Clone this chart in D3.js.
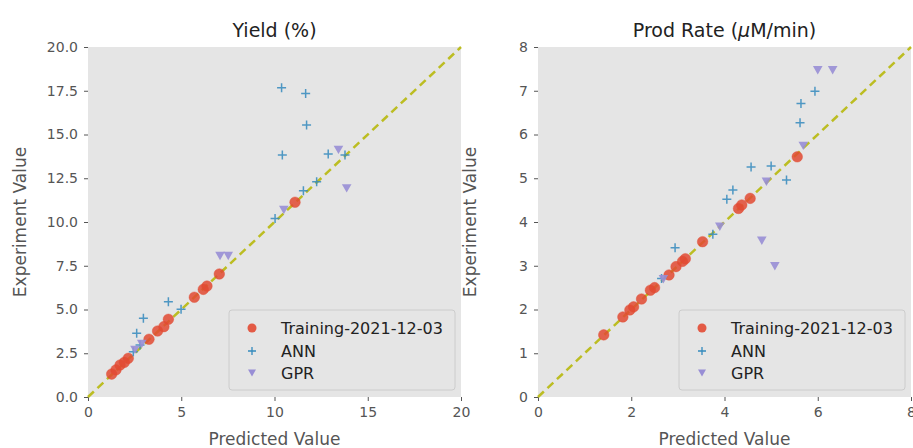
<!DOCTYPE html>
<html>
<head>
<meta charset="utf-8">
<script src="https://cdn.jsdelivr.net/npm/d3@7"></script>
<style>
  body { margin: 0; background: #fff; }
  svg { display: block; font-family: "DejaVu Sans", sans-serif; }
</style>
</head>
<body>
<svg id="chart" width="913" height="448"></svg>
<script>
// ---- Yield (%) panel data: [predicted, experiment] ----
const yieldTraining = [
  [1.27, 1.31], [1.5, 1.55], [1.72, 1.83], [1.95, 1.98], [2.16, 2.21],
  [3.27, 3.3], [3.73, 3.77], [4.07, 4.02], [4.31, 4.44],
  [5.7, 5.7], [6.18, 6.15], [6.38, 6.34], [7.04, 7.03], [11.1, 11.13]
];
const yieldANN = [
  [10.38, 17.67], [11.67, 17.35], [11.72, 15.54], [10.42, 13.83], [12.88, 13.89],
  [13.78, 13.83], [11.55, 11.79], [12.26, 12.3], [10.03, 10.2],
  [2.61, 3.64], [2.97, 4.5], [4.31, 5.45], [4.99, 5.01], [2.43, 2.59], [2.79, 2.97]
];
const yieldGPR = [
  [13.43, 14.12], [13.87, 11.92], [7.08, 8.06], [7.52, 8.06],
  [2.52, 2.69], [2.88, 3.03], [10.5, 10.69]
];

// ---- Prod Rate panel data: [predicted, experiment] ----
const rateTraining = [
  [1.41, 1.42], [1.82, 1.83], [1.97, 1.99], [2.05, 2.06], [2.22, 2.24],
  [2.41, 2.44], [2.5, 2.5], [2.81, 2.79], [2.96, 2.98], [3.1, 3.1], [3.16, 3.16],
  [3.53, 3.55], [4.3, 4.31], [4.37, 4.39], [4.55, 4.54], [5.56, 5.49]
];
const rateANN = [
  [2.94, 3.41], [4.05, 4.52], [4.18, 4.73], [4.57, 5.26], [5.0, 5.28],
  [5.33, 4.96], [5.62, 6.27], [5.64, 6.71], [5.94, 6.99],
  [2.65, 2.71], [3.75, 3.72]
];
const rateGPR = [
  [6.0, 7.47], [6.32, 7.47], [4.8, 3.57], [5.08, 2.99],
  [4.9, 4.92], [5.69, 5.74], [2.69, 2.69], [3.9, 3.89]
];

// ---- tick labels ----
const yieldXTicks = [0, 5, 10, 15, 20];
const yieldYTicks = [0, 2.5, 5, 7.5, 10, 12.5, 15, 17.5, 20];
const rateXTicks = [0, 2, 4, 6, 8];
const rateYTicks = [0, 1, 2, 3, 4, 5, 6, 7, 8];

const seriesNames = ["Training-2021-12-03", "ANN", "GPR"];
const colors = { train: "#E24A33", ann: "#348ABD", gpr: "#988ED5", diag: "#BCBD22" };

const svg = d3.select("#chart");

function panel(opts) {
  const { left, right, top, bottom, domain, xTicks, yTicks, yFmt, titleNodes } = opts;
  const x = d3.scaleLinear().domain(domain).range([left, right]);
  const y = d3.scaleLinear().domain(domain).range([bottom, top]);
  const g = svg.append("g");

  g.append("rect")
    .attr("x", left).attr("y", top)
    .attr("width", right - left).attr("height", bottom - top)
    .attr("fill", "#E5E5E5");

  const xAxis = g.append("g").attr("transform", `translate(0,${bottom})`)
    .call(d3.axisBottom(x).tickValues(xTicks).tickSize(4).tickPadding(6).tickFormat(d3.format("d")));
  const yAxis = g.append("g").attr("transform", `translate(${left},0)`)
    .call(d3.axisLeft(y).tickValues(yTicks).tickSize(4).tickPadding(6).tickFormat(yFmt));
  [xAxis, yAxis].forEach(a => {
    a.select(".domain").remove();
    a.selectAll(".tick line").attr("stroke", "#555").attr("stroke-width", 1);
    a.selectAll(".tick text").attr("fill", "#555").attr("font-size", 14)
      .attr("font-family", "DejaVu Sans, sans-serif");
  });

  // diagonal y = x
  g.append("line")
    .attr("x1", x(domain[0])).attr("y1", y(domain[0]))
    .attr("x2", x(domain[1])).attr("y2", y(domain[1]))
    .attr("stroke", colors.diag).attr("stroke-width", 2.5)
    .attr("stroke-dasharray", "8,5");

  // training circles
  g.append("g").selectAll("circle").data(opts.train).join("circle")
    .attr("cx", d => x(d[0])).attr("cy", d => y(d[1])).attr("r", 5.3)
    .attr("fill", colors.train).attr("fill-opacity", 0.85)
    .attr("stroke", colors.train).attr("stroke-opacity", 0.4).attr("stroke-width", 1);

  // ANN plus markers
  g.append("g").selectAll("path").data(opts.ann).join("path")
    .attr("transform", d => `translate(${x(d[0])},${y(d[1])})`)
    .attr("d", "M-4.5,0H4.5M0,-4.5V4.5")
    .attr("stroke", colors.ann).attr("stroke-width", 1.5).attr("stroke-opacity", 0.85)
    .attr("fill", "none");

  // GPR down triangles
  g.append("g").selectAll("path").data(opts.gpr).join("path")
    .attr("transform", d => `translate(${x(d[0])},${y(d[1])})`)
    .attr("d", "M-4.8,-4.2L4.8,-4.2L0,4.2Z")
    .attr("fill", colors.gpr).attr("fill-opacity", 0.9);

  // title
  const t = g.append("text")
    .attr("x", (left + right) / 2).attr("y", 37)
    .attr("text-anchor", "middle").attr("font-size", 19).attr("fill", "#222");
  titleNodes.forEach(n => {
    t.append("tspan").text(n.text).attr("font-style", n.italic ? "italic" : null);
  });

  // axis labels
  g.append("text")
    .attr("x", (left + right) / 2).attr("y", 445)
    .attr("text-anchor", "middle").attr("font-size", 17).attr("fill", "#555")
    .text("Predicted Value");
  g.append("text")
    .attr("transform", `translate(${left - 62},${(top + bottom) / 2}) rotate(-90)`)
    .attr("text-anchor", "middle").attr("font-size", 17).attr("fill", "#555")
    .text("Experiment Value");

  // legend
  const lx = right - 232, ly = bottom - 87, lw = 226, lh = 80;
  const lg = g.append("g");
  lg.append("rect").attr("x", lx).attr("y", ly).attr("width", lw).attr("height", lh)
    .attr("rx", 3).attr("fill", "#E5E5E5").attr("stroke", "#CCCCCC").attr("stroke-width", 1);
  const rows = [ly + 18, ly + 41, ly + 63];
  const mx = lx + 23;
  lg.append("circle").attr("cx", mx).attr("cy", rows[0]).attr("r", 4.5)
    .attr("fill", colors.train).attr("fill-opacity", 0.9);
  lg.append("path").attr("transform", `translate(${mx},${rows[1]})`)
    .attr("d", "M-4,0H4M0,-4V4").attr("stroke", colors.ann).attr("stroke-width", 1.3);
  lg.append("path").attr("transform", `translate(${mx},${rows[2]})`)
    .attr("d", "M-4,-3.5L4,-3.5L0,3.5Z").attr("fill", colors.gpr);
  seriesNames.forEach((s, i) => {
    lg.append("text").attr("x", lx + 52).attr("y", rows[i] + 6)
      .attr("font-size", 16).attr("fill", "#222").text(s);
  });
}

panel({
  left: 88, right: 461, top: 47, bottom: 397,
  domain: [0, 20], xTicks: yieldXTicks, yTicks: yieldYTicks,
  yFmt: d3.format(".1f"),
  titleNodes: [{ text: "Yield (%)" }],
  train: yieldTraining, ann: yieldANN, gpr: yieldGPR
});

panel({
  left: 538, right: 911, top: 47, bottom: 397,
  domain: [0, 8], xTicks: rateXTicks, yTicks: rateYTicks,
  yFmt: d3.format("d"),
  titleNodes: [{ text: "Prod Rate (" }, { text: "μ", italic: true }, { text: "M/min)" }],
  train: rateTraining, ann: rateANN, gpr: rateGPR
});
</script>
</body>
</html>
